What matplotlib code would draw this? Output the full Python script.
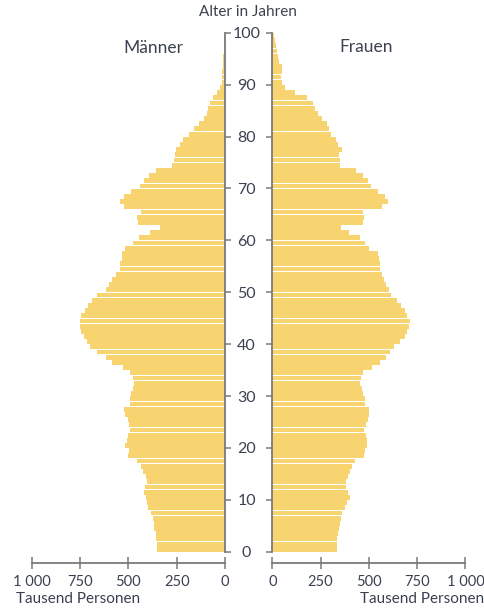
import matplotlib
matplotlib.use("Agg")
import matplotlib.pyplot as plt
from matplotlib.ticker import FixedLocator, FuncFormatter

plt.rcParams['font.family'] = ['Lato', 'DejaVu Sans']

# Ages 0..99 (bar for age a spans a..a+1)
ages = list(range(100))

# Thousand persons, index = age
maenner = [
    354, 354, 358, 359, 366, 368, 371, 383, 396, 401,   # 0-9
    408, 420, 413, 404, 408, 425, 435, 454, 501, 497,   # 10-19
    515, 509, 501, 492, 495, 504, 516, 522, 492, 492,   # 20-29
    487, 478, 472, 478, 492, 530, 587, 618, 661, 696,   # 30-39
    712, 729, 743, 750, 751, 746, 722, 708, 689, 661,   # 40-49
    618, 599, 582, 566, 544, 544, 535, 535, 516, 475,   # 50-59
    446, 389, 337, 449, 454, 437, 525, 544, 525, 484,   # 60-69
    440, 420, 394, 357, 276, 265, 259, 254, 233, 216,   # 70-79
    185, 161, 136, 110, 95, 86, 78, 60, 41, 26,         # 80-89
    17, 15, 14, 12, 10, 8, 6, 5, 3, 2,                  # 90-99
]
frauen = [
    337, 337, 337, 342, 347, 351, 356, 361, 378, 389,   # 0-9
    402, 394, 380, 382, 390, 402, 411, 428, 477, 480,   # 10-19
    492, 489, 485, 475, 484, 497, 503, 503, 480, 480,   # 20-29
    471, 466, 454, 459, 468, 515, 558, 587, 610, 632,   # 30-39
    661, 687, 696, 710, 713, 696, 687, 667, 644, 613,   # 40-49
    603, 589, 579, 570, 558, 558, 551, 546, 503, 482,   # 50-59
    453, 396, 354, 471, 477, 468, 567, 598, 584, 546,   # 60-69
    509, 494, 471, 434, 350, 348, 345, 359, 342, 328,   # 70-79
    302, 295, 281, 256, 235, 223, 209, 178, 117, 66,    # 80-89
    52, 45, 48, 48, 36, 28, 22, 18, 12, 7,              # 90-99
]

x_ticks = [0, 250, 500, 750, 1000]
y_ticks = [0, 10, 20, 30, 40, 50, 60, 70, 80, 90, 100]

bar_color = '#F8D470'
axis_color = '#7a7a7a'
text_color = '#3b4150'

W, H = 485, 608
fig = plt.figure(figsize=(W / 100, H / 100), dpi=100)

bottom = (H - 551.7) / H
height = (551.7 - 32.7) / H
axL = fig.add_axes([31.7 / W, bottom, (225 - 31.7) / W, height])
axR = fig.add_axes([272.3 / W, bottom, (465.5 - 272.3) / W, height])

axL.barh(ages, maenner, height=0.93, align='edge', color=bar_color, linewidth=0)
axR.barh(ages, frauen, height=0.93, align='edge', color=bar_color, linewidth=0)

def fmt(v, pos):
    v = int(round(v))
    return f"{v:,}".replace(",", " ")

for ax in (axL, axR):
    ax.set_xlim(0, 1000)
    ax.set_ylim(0, 100)
    ax.set_facecolor('none')
    ax.xaxis.set_major_locator(FixedLocator(x_ticks))
    ax.xaxis.set_major_formatter(FuncFormatter(fmt))
    ax.yaxis.set_major_locator(FixedLocator(y_ticks))
    ax.spines['top'].set_visible(False)
    ax.spines['bottom'].set_position(('outward', 8))
    ax.spines['bottom'].set_color(axis_color)
    ax.spines['bottom'].set_linewidth(1.3)
    ax.tick_params(axis='x', direction='inout', length=9, width=1.1,
                   color=axis_color, labelcolor=text_color, labelsize=10.5, pad=4)
    ax.tick_params(axis='y', direction='out', length=4.5, width=1.1,
                   color=axis_color, labelcolor=text_color, labelsize=11.5)

axL.invert_xaxis()
axL.spines['left'].set_visible(False)
axL.spines['right'].set_color(axis_color)
axL.spines['right'].set_linewidth(1.3)
axL.yaxis.tick_right()
axL.tick_params(axis='y', labelright=False, labelleft=False)

axR.spines['right'].set_visible(False)
axR.spines['left'].set_color(axis_color)
axR.spines['left'].set_linewidth(1.3)
axR.yaxis.tick_left()
axR.tick_params(axis='y', pad=14)
for lbl in axR.get_yticklabels():
    lbl.set_horizontalalignment('center')

fig.text(248 / W, 1 - 12 / H, 'Alter in Jahren', ha='center', va='center',
         fontsize=11, color=text_color)
fig.text(153 / W, 1 - 48 / H, 'Männer', ha='center', va='center',
         fontsize=12.5, color=text_color)
fig.text(366 / W, 1 - 47 / H, 'Frauen', ha='center', va='center',
         fontsize=12.5, color=text_color)
fig.text(16 / W, 1 - 599 / H, 'Tausend Personen', ha='left', va='center',
         fontsize=11, color=text_color)
fig.text(484 / W, 1 - 599 / H, 'Tausend Personen', ha='right', va='center',
         fontsize=11, color=text_color)

fig.savefig('out.png', dpi=100)
